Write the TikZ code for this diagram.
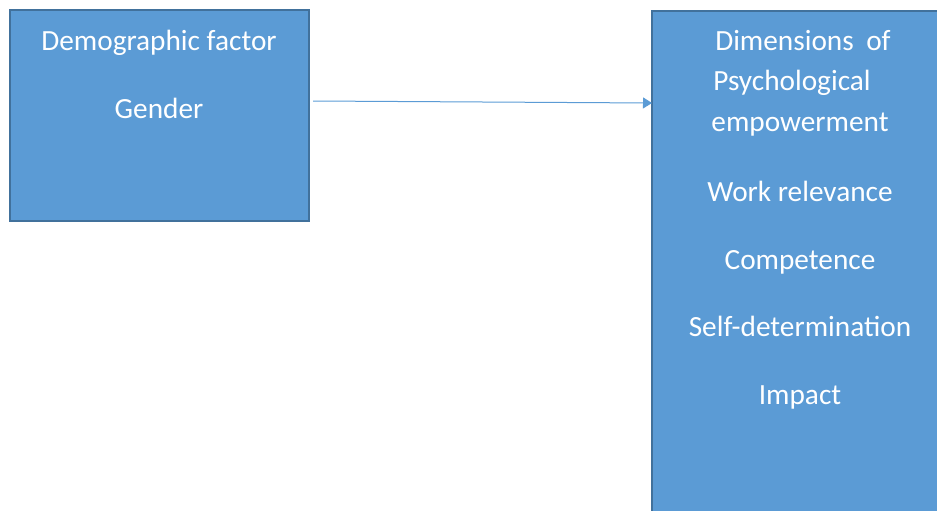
\documentclass[tikz,border=0pt]{standalone}
\usepackage{fontspec}
\setmainfont{Carlito}
\usetikzlibrary{arrows.meta}
\definecolor{boxfill}{HTML}{5B9BD5}
\definecolor{boxline}{HTML}{41719C}

\begin{document}
\begin{tikzpicture}[x=1pt,y=-1pt,
    factorbox/.style={draw=boxline,line width=2pt,fill=boxfill,
      inner sep=0pt,outer sep=0pt},
    label/.style={text=white,font=\fontsize{29.3}{34}\selectfont,
      inner sep=0pt,anchor=base},
    conn/.style={draw=boxfill,line width=1pt,
      -{Triangle[length=9pt,width=11pt]}}]
  \useasboundingbox (0,0) rectangle (937,511);
  \clip (0,0) rectangle (937,511);
  % left box
  \node[factorbox,minimum width=299pt,minimum height=211pt] (demo) at (159.5,115.5) {};
  \node[label] (demotitle) at (159,51) {Demographic factor};
  \node[label] (gender) at (159,118) {Gender};
  % right box
  \node[factorbox,minimum width=310pt,minimum height=530pt] (dims) at (807,276) {};
  \node[label] (dimtitle) at (803,51) {Dimensions\hspace{0.2em} of};
  \node[label] (psych) at (792,91) {Psychological};
  \node[label] (empow) at (800,131) {empowerment};
  \node[label] (work) at (800,201) {Work relevance};
  \node[label] (comp) at (800,269) {Competence};
  \node[label] (self) at (800,336) {Self-determination};
  \node[label] (impact) at (800,404) {Impact};
  % connector
  \draw[conn] ([xshift=4pt,yshift=14.5pt]demo.east) -- ([yshift=173pt]dims.west);
\end{tikzpicture}
\end{document}
